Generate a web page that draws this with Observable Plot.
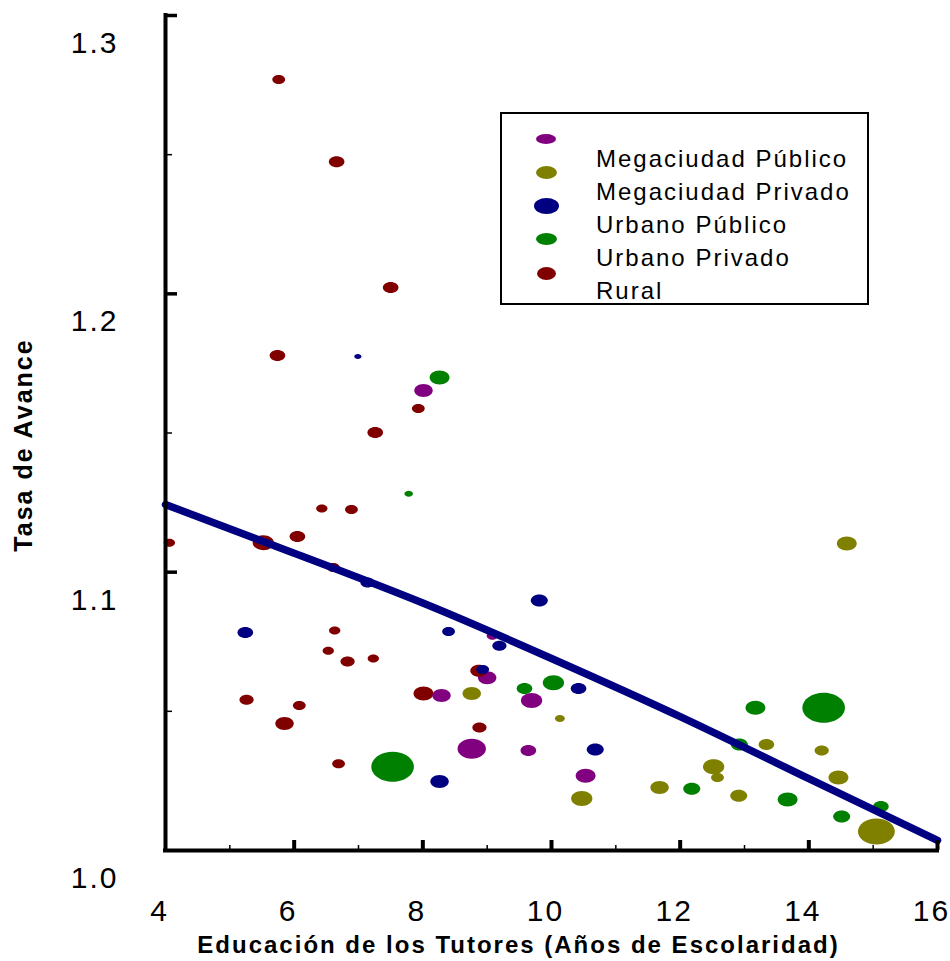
<!DOCTYPE html>
<html>
<head>
<meta charset="utf-8">
<script src="https://cdn.jsdelivr.net/npm/d3@7"></script>
<script src="https://cdn.jsdelivr.net/npm/@observablehq/plot@0.6"></script>
<style>
  body { margin: 0; background: #fff; }
  #wrap { position: relative; width: 950px; height: 961px; font-family: "Liberation Sans", Arial, sans-serif; }
  #wrap svg { position: absolute; left: 0; top: 0; }
  g[aria-label="x-axis tick label"] text { letter-spacing: 2px; }
  g[aria-label="y-axis tick label"] text { letter-spacing: 2px; }
  g[aria-label="text"] text { letter-spacing: 2px; }
  #legend { position: absolute; left: 500px; top: 112px; width: 365px; height: 189px; border: 2px solid #000; background: #fff; }
  #legend .mk { position: absolute; border-radius: 50%; }
  #legend .txt { position: absolute; left: 94px; top: 28px; font-size: 24px; line-height: 33px; letter-spacing: 2px; color: #000; white-space: nowrap; }
</style>
</head>
<body>
<div id="wrap"></div>
<script>
// Categorías y colores
const categorias = ["Megaciudad Público", "Megaciudad Privado", "Urbano Público", "Urbano Privado", "Rural"];
const colores = ["#800080", "#808000", "#000080", "#008000", "#800000"];

// [años de escolaridad de tutores, tasa de avance, peso (tamaño de la burbuja)]
const megaPublico = [
  [8.01, 1.1653, 169], [9.08, 1.0772, 64], [9.00, 1.0621, 169], [8.29, 1.0557, 169],
  [9.69, 1.0539, 225], [8.76, 1.0366, 400], [9.64, 1.0359, 121], [10.53, 1.0269, 196]
];
const megaPrivado = [
  [14.59, 1.1103, 196], [8.76, 1.0564, 169], [10.13, 1.0474, 49], [10.47, 1.0187, 225],
  [11.68, 1.0226, 169], [12.52, 1.0301, 225], [12.58, 1.0262, 81], [12.91, 1.0197, 144],
  [13.34, 1.0381, 121], [14.20, 1.0359, 100], [14.46, 1.0262, 196], [15.05, 1.0068, 676]
];
const urbanoPublico = [
  [6.99, 1.1775, 25], [5.24, 1.0783, 121], [7.14, 1.0963, 100], [8.40, 1.0787, 81],
  [9.81, 1.0898, 144], [9.19, 1.0736, 100], [8.93, 1.0650, 81], [10.42, 1.0582, 121],
  [10.68, 1.0363, 144], [8.26, 1.0248, 169]
];
const urbanoPrivado = [
  [8.26, 1.1699, 196], [7.78, 1.1282, 36], [9.58, 1.0582, 121], [10.03, 1.0603, 225],
  [7.53, 1.0301, 900], [13.17, 1.0513, 196], [14.23, 1.0513, 900], [12.92, 1.0381, 144],
  [12.18, 1.0222, 144], [13.67, 1.0183, 196], [14.51, 1.0122, 144], [15.12, 1.0158, 121]
];
const rural = [
  [5.76, 1.2770, 81], [6.66, 1.2475, 121], [7.50, 1.2023, 121], [5.74, 1.1778, 121],
  [7.93, 1.1588, 81], [7.26, 1.1502, 121], [6.43, 1.1229, 64], [6.89, 1.1225, 81],
  [6.05, 1.1128, 121], [5.52, 1.1106, 225], [4.06, 1.1106, 64], [6.61, 1.1017, 81],
  [6.63, 1.0790, 64], [6.53, 1.0718, 64], [6.83, 1.0679, 100], [7.23, 1.0690, 64],
  [5.26, 1.0542, 100], [6.08, 1.0521, 81], [5.85, 1.0456, 169], [6.69, 1.0312, 81],
  [8.01, 1.0564, 196], [8.87, 1.0646, 144], [8.88, 1.0442, 100]
];

// Línea de tendencia
const tendencia = [[4, 1.1243], [6, 1.1068], [8, 1.0889], [10, 1.0690], [12, 1.0481], [14, 1.0258], [16, 1.0036]];

// Ejes
const xEtiquetas = [4, 6, 8, 10, 12, 14, 16];
const xMayor = [6, 8, 10, 12, 14, 16];
const xMenor = [5, 7, 9, 11, 13, 15];
const yEtiquetas = [1.0, 1.1, 1.2, 1.3];
const yMayor = [1.1, 1.2, 1.3];
const yMenor = [1.05, 1.15, 1.25];

const tituloX = "Educación de los Tutores (Años de Escolaridad)";
const tituloY = "Tasa de Avance";

// orden de dibujo (Rural debajo)
const series = [
  ["Rural", rural], ["Urbano Privado", urbanoPrivado], ["Urbano Público", urbanoPublico],
  ["Megaciudad Privado", megaPrivado], ["Megaciudad Público", megaPublico]
];
const puntos = series.flatMap(([s, arr]) => arr.map(([educ, tasa, peso]) => ({serie: s, educ, tasa, peso})));

const elipse = {
  draw(context, size) {
    const r = Math.sqrt(size / Math.PI);
    const rx = r * 1.42, ry = r, k = 0.5523;
    context.moveTo(rx, 0);
    context.bezierCurveTo(rx, ry * k, rx * k, ry, 0, ry);
    context.bezierCurveTo(-rx * k, ry, -rx, ry * k, -rx, 0);
    context.bezierCurveTo(-rx, -ry * k, -rx * k, -ry, 0, -ry);
    context.bezierCurveTo(rx * k, -ry, rx, -ry * k, rx, 0);
    context.closePath();
  }
};

const chart = Plot.plot({
  width: 950,
  height: 961,
  marginLeft: 165,
  marginRight: 13,
  marginTop: 15,
  marginBottom: 111,
  x: {domain: [4, 16]},
  y: {domain: [1.0, 1.3]},
  r: {type: "sqrt", domain: [0, 900], range: [0, 15]},
  color: {domain: categorias, range: colores},
  style: {fontFamily: '"Liberation Sans", Arial, sans-serif', background: "transparent", color: "#000", overflow: "visible"},
  marks: [
    Plot.dot(puntos, {x: "educ", y: "tasa", r: "peso", fill: "serie", symbol: elipse}),
    Plot.line(tendencia, {x: d => d[0], y: d => d[1], stroke: "#000080", strokeWidth: 7.5, curve: "natural"}),
    Plot.ruleX([4], {stroke: "#000", strokeWidth: 4, strokeLinecap: "square"}),
    Plot.ruleY([1.0], {stroke: "#000", strokeWidth: 4, strokeLinecap: "square"}),
    Plot.axisX({ticks: xMayor, tickSize: 10, dy: -10, fill: "none", stroke: "#000", strokeWidth: 4}),
    Plot.axisX({ticks: xMenor, tickSize: 5, dy: -5, fill: "none", stroke: "#000", strokeWidth: 1.5}),
    Plot.axisY({ticks: yMayor, tickSize: 12, dx: 12, fill: "none", stroke: "#000", strokeWidth: 3.5}),
    Plot.axisY({ticks: yMenor, tickSize: 7, dx: 7, fill: "none", stroke: "#000", strokeWidth: 1.5}),
    Plot.axisX({ticks: xEtiquetas, tickSize: 0, tickPadding: 49, dx: -6, tickFormat: d => String(d), label: null, fontSize: 30, fill: "#000"}),
    Plot.axisY({ticks: yEtiquetas, tickSize: 0, tickPadding: 47, dy: 28, tickFormat: d3.format(".1f"), label: null, fontSize: 30, fill: "#000"}),
    Plot.text([tituloX], {frameAnchor: "bottom", dx: -33, dy: 95, fontSize: 24, fontWeight: "bold", fill: "#000", lineAnchor: "middle", textAnchor: "middle"}),
    Plot.text([tituloY], {frameAnchor: "left", rotate: -90, dx: -142, dy: 12, fontSize: 25, fontWeight: "bold", fill: "#000", lineAnchor: "middle", textAnchor: "middle"})
  ]
});

const wrap = document.getElementById("wrap");
wrap.appendChild(chart);

// Leyenda
const legend = document.createElement("div");
legend.id = "legend";
const mkSizes = [[20, 10], [21, 13], [25, 16], [21, 12], [19, 13]];
const mkCy = [25, 58, 92, 125, 159];
categorias.forEach((c, i) => {
  const m = document.createElement("div");
  m.className = "mk";
  const [w, h] = mkSizes[i];
  m.style.width = w + "px";
  m.style.height = h + "px";
  m.style.left = (44 - w / 2) + "px";
  m.style.top = (mkCy[i] - h / 2) + "px";
  m.style.background = colores[i];
  legend.appendChild(m);
});
const txt = document.createElement("div");
txt.className = "txt";
txt.innerHTML = categorias.map(c => `<div>${c}</div>`).join("");
legend.appendChild(txt);
wrap.appendChild(legend);
</script>
</body>
</html>
